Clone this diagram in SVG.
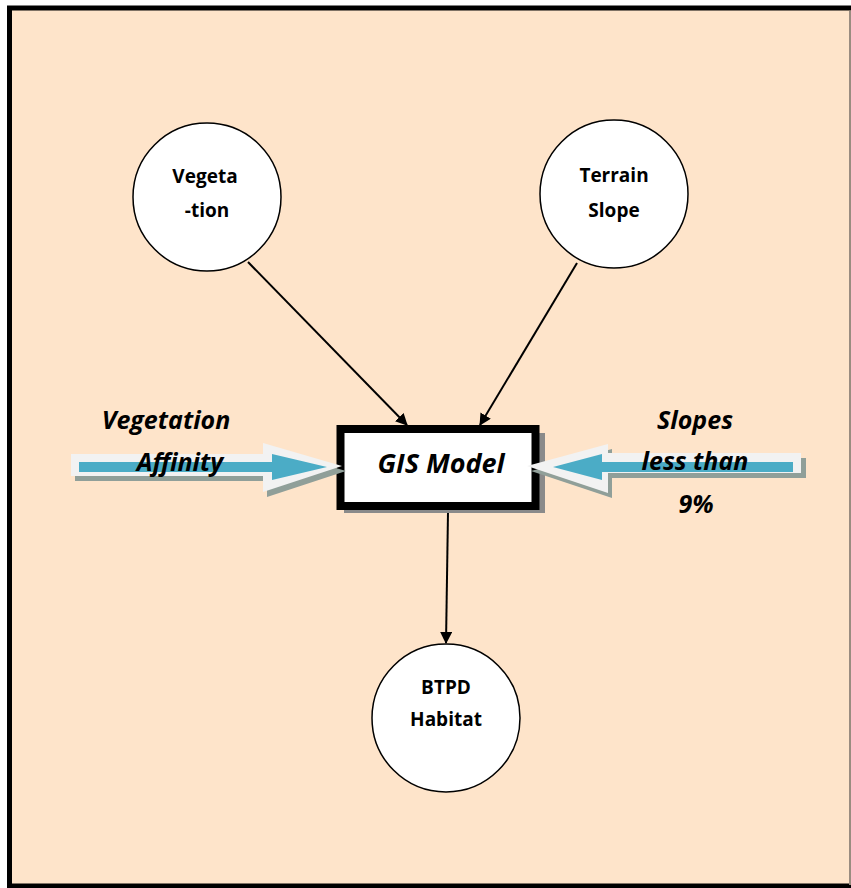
<svg xmlns="http://www.w3.org/2000/svg" width="851" height="888" viewBox="0 0 851 888">
<defs>
<style>
.node circle{fill:#fff;stroke:#000;stroke-width:1.5}
.nt{font-family:"Open Sans","Liberation Sans",sans-serif;font-weight:bold;font-size:19px;text-anchor:middle;fill:#000}
.lbl{font-family:"Open Sans","Liberation Sans",sans-serif;font-weight:bold;font-style:italic;font-size:25px;text-anchor:middle;fill:#000}
.conn line{stroke:#000;stroke-width:2;marker-end:url(#ah)}
.sh{fill:#909f99}
.outer{fill:#f2f2f2}
.inner{fill:#4bacc6}
</style>
<marker id="ah" viewBox="0 0 12 12" refX="11" refY="6" markerWidth="12" markerHeight="12" markerUnits="userSpaceOnUse" orient="auto">
<path d="M0,0 L12,6 L0,12 z" fill="#000"/>
</marker>
</defs>
<rect x="0" y="0" width="851" height="888" fill="#fff"/>
<rect x="9.5" y="8" width="845" height="878" fill="#fee4ca" stroke="#000" stroke-width="5"/>
<line x1="850" y1="11" x2="850" y2="886" stroke="#9a8c80" stroke-width="2"/>
<rect x="9" y="885" width="842" height="3" fill="#000"/>

<g id="connectors" class="conn">
<line x1="248" y1="262" x2="407" y2="425"/>
<line x1="577" y1="263" x2="480" y2="425"/>
<line x1="448" y1="512" x2="446" y2="643"/>
</g>

<g id="node-vegetation" class="node">
<circle cx="207" cy="197" r="74"/>
<text class="nt" x="205" y="183">Vegeta</text>
<text class="nt" x="207" y="217">-tion</text>
</g>
<g id="node-terrain" class="node">
<circle cx="614" cy="194" r="74"/>
<text class="nt" x="614" y="182">Terrain</text>
<text class="nt" x="614" y="217">Slope</text>
</g>
<g id="node-btpd" class="node">
<circle cx="446" cy="718" r="74"/>
<text class="nt" x="446" y="694">BTPD</text>
<text class="nt" x="446" y="726">Habitat</text>
</g>

<g id="node-gis">
<rect x="344" y="433" width="201" height="80" fill="#8a8a8a"/>
<rect x="340.5" y="429" width="195" height="77" fill="#fff" stroke="#000" stroke-width="8"/>
<text x="441" y="473" style="font-family:'Open Sans','Liberation Sans',sans-serif;font-weight:bold;font-style:italic;font-size:27px;text-anchor:middle">GIS Model</text>
</g>

<g id="arrow-left">
<path class="sh" d="M75,459 H267 V448 L346,471 L267,497 V481 H75 z"/>
<path class="outer" d="M71,454 H263 V443 L342,466 L263,492 V476 H71 z"/>
<path class="inner" d="M79,462 H272 V454 L327,467 L272,480 V472 H79 z"/>
</g>
<g id="arrow-right">
<path class="sh" d="M806,458 H612 V449 L531,471 L612,498 V478 H806 z"/>
<path class="outer" d="M801,453 H608 V444 L527,466 L608,493 V473 H801 z"/>
<path class="inner" d="M793,462 H602 V454 L553,467 L602,480 V472 H793 z"/>
</g>

<g id="label-vegetation">
<text class="lbl" x="166" y="429">Vegetation</text>
<text class="lbl" x="180" y="471">Affinity</text>
</g>
<g id="label-slopes">
<text class="lbl" x="695" y="429">Slopes</text>
<text class="lbl" x="695" y="470">less than</text>
<text class="lbl" x="696" y="513">9%</text>
</g>
</svg>
